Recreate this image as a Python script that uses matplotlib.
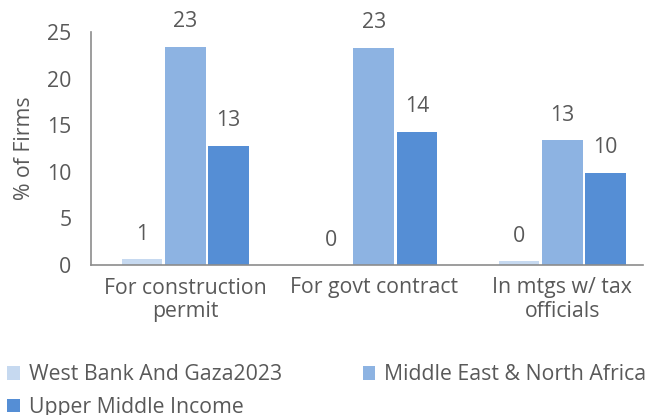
import matplotlib.pyplot as plt
import numpy as np

categories = ["For construction\npermit", "For govt contract", "In mtgs w/ tax\nofficials"]
series_names = ["West Bank And Gaza2023", "Middle East & North Africa", "Upper Middle Income"]
west_bank = [0.6, 0.0, 0.4]
mena = [23.4, 23.3, 13.4]
upper_middle = [12.8, 14.3, 9.9]
colors = ["#C6D9F0", "#8DB3E2", "#558ED5"]

plt.rcParams['font.family'] = ['Open Sans', 'DejaVu Sans']
text_color = "#595959"
fs = 15.3

fig = plt.figure(figsize=(6.45, 4.15), dpi=100)
W, H = 645, 415
ax = fig.add_axes([91 / W, 1 - 265 / H, (643 - 91) / W, (265 - 32) / H])

x = np.arange(len(categories))
width = 0.215
step = 0.229
handles = []
for i, (vals, name, col) in enumerate(zip([west_bank, mena, upper_middle], series_names, colors)):
    pos = x + (i - 1) * step
    b = ax.bar(pos, vals, width, color=col, label=name)
    handles.append(b)
    for px, v in zip(pos, vals):
        ax.annotate(f"{v:.0f}", (px, v), xytext=(0, 18), textcoords="offset points",
                    ha="center", va="center", fontsize=fs, color=text_color)

ax.set_ylim(0, 25)
ax.set_xlim(-0.5, -0.5 + (643 - 91) / 188.5)
ax.set_yticks([0, 5, 10, 15, 20, 25])
ax.set_xticks(x)
ax.set_xticklabels(categories, fontsize=fs, color=text_color, linespacing=1.15)
ax.tick_params(axis="both", length=0, colors=text_color, labelsize=fs)
ax.tick_params(axis="y", pad=14)
ax.tick_params(axis="x", pad=9)
ax.set_ylabel("% of Firms", fontsize=fs, color=text_color, labelpad=9)

for s in ["top", "right"]:
    ax.spines[s].set_visible(False)
for s in ["left", "bottom"]:
    ax.spines[s].set_color("#8c8c8c")
    ax.spines[s].set_linewidth(1.2)

# row-major order like the original: WB, MENA / UMI
order = [0, 2, 1]
fig.legend([handles[k] for k in order], [series_names[k] for k in order],
           loc="upper left", bbox_to_anchor=(0.005, 1 - 360 / H), ncol=2, frameon=False,
           fontsize=fs, handlelength=0.6, handleheight=0.6, handletextpad=0.4,
           columnspacing=3.8, labelspacing=0.55, labelcolor=text_color,
           borderaxespad=0, borderpad=0.2)

fig.savefig("out.png", dpi=100)
